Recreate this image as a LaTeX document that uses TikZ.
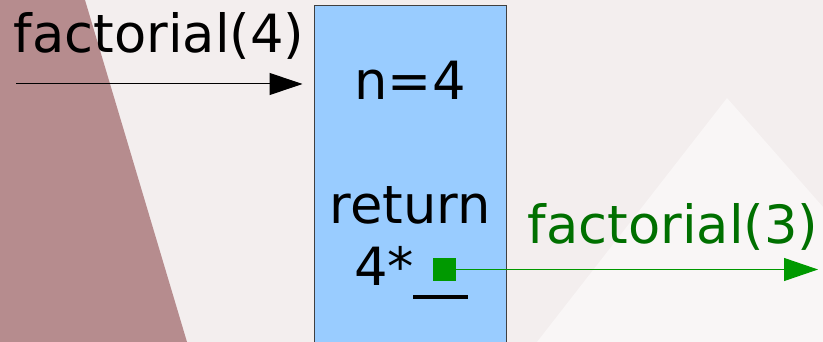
\documentclass[tikz,border=0pt]{standalone}
\usepackage{fontspec}
\setmainfont{DejaVu Sans}
\usetikzlibrary{arrows.meta}
\definecolor{paper}{RGB}{243,238,238}
\definecolor{rock}{RGB}{182,140,142}
\definecolor{peak}{RGB}{249,246,246}
\definecolor{framefill}{RGB}{153,204,255}
\definecolor{calls}{RGB}{0,153,0}
\definecolor{callstext}{RGB}{0,112,0}

\begin{document}
\begin{tikzpicture}[x=0.75pt, y=-0.75pt,
  big/.style={inner sep=0pt, anchor=base, font=\fontsize{39.5}{47}\selectfont},
  framebox/.style={draw=black!75, line width=0.75pt, fill=framefill,
    minimum width=144pt, minimum height=258pt, inner sep=0pt},
  hole/.style={fill=calls, minimum size=17.25pt, inner sep=0pt},
  callarrow/.style={line width=0.75pt, -{Triangle[length=24.75pt, width=16.5pt]}},
  recarrow/.style={calls, line width=0.8pt,
    -{Triangle[length=25.5pt, width=17.25pt, fill=calls, color=calls]}}]

\useasboundingbox (0,0) rectangle (823,342);
\clip (0,0) rectangle (823,342);

%---------------------------------------
% Background
%---------------------------------------
\fill[paper] (0,0) rectangle (823,342);
\fill[rock] (0,0) -- (85,0) -- (187,342) -- (0,342) -- cycle;
\fill[peak] (727,98) -- (942,342) -- (537,342) -- cycle;

%---------------------------------------
% Stack frame
%---------------------------------------
\node[framebox] (frame) at (410,178) {};
\node[big] (nval) at (410,100) {n=4};
\node[big] (ret) at (410,223) {return};
\node[big, anchor=base west] (mult) at (354,285) {4*};
\node[hole] (hole) at (444.5,269.5) {};
\draw[line width=3pt] (413,297) -- (468,297);

%---------------------------------------
% Incoming call
%---------------------------------------
\node[big] (callin) at (159,53) {factorial(4)};
\coordinate (in0) at (16,84);
\draw[callarrow, shorten >=8.25pt] (in0) -- (frame.west |- in0);

%---------------------------------------
% Recursive call
%---------------------------------------
\node[big, callstext] (callout) at (673,243) {factorial(3)};
\coordinate (out1) at (818,269.5);
\draw[recarrow] (hole.east) -- (out1);

\end{tikzpicture}
\end{document}
